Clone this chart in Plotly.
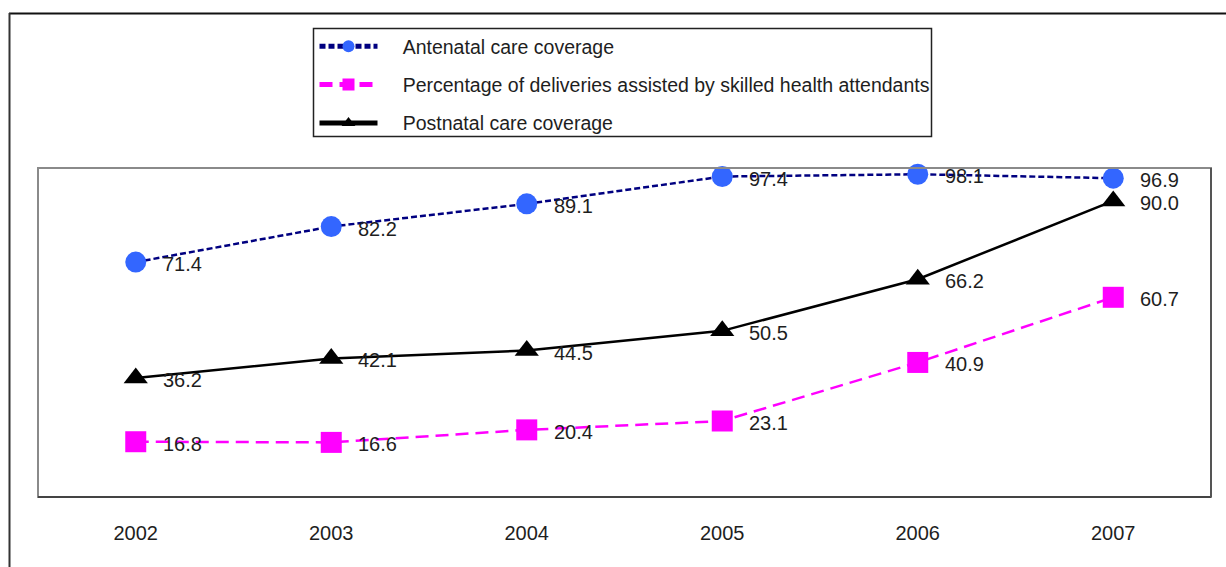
import plotly.graph_objects as go

# Coverage indicators by year (%)
years = ["2002", "2003", "2004", "2005", "2006", "2007"]
antenatal = [71.4, 82.2, 89.1, 97.4, 98.1, 96.9]
deliveries = [16.8, 16.6, 20.4, 23.1, 40.9, 60.7]
postnatal = [36.2, 42.1, 44.5, 50.5, 66.2, 90.0]

series_names = [
    "Antenatal care coverage",
    "Percentage of deliveries assisted by skilled health attendants",
    "Postnatal care coverage",
]

W, H = 1226, 567
L, R, T, B = 38, 1211, 168, 497  # plot area in pixels

FONT = "Liberation Sans, Arial, sans-serif"
TXT = "#1e1e1e"
PAD = "\u00a0\u00a0\u00a0\u2009"  # gap between legend symbol and label

fig = go.Figure()

fig.add_trace(go.Scatter(
    x=years, y=antenatal, name=PAD + series_names[0], mode="lines+markers",
    line=dict(color="#000080", width=2.5, dash="6px,3px"),
    marker=dict(symbol="circle", size=21, color="#3366FF"),
    legendgroup="a", cliponaxis=False,
))
fig.add_trace(go.Scatter(
    x=years, y=deliveries, name=PAD + series_names[1], mode="lines+markers",
    line=dict(color="#FF00FF", width=2.5, dash="13px,7px"),
    marker=dict(symbol="square", size=21, color="#FF00FF"),
    legendgroup="b", cliponaxis=False,
))
fig.add_trace(go.Scatter(
    x=years, y=postnatal, name=PAD + series_names[2], mode="lines+markers",
    line=dict(color="#000000", width=2.5),
    marker=dict(symbol="triangle-up", size=21, color="#000000"),
    legendgroup="c", cliponaxis=False,
))

# Value labels to the right of each marker (category index on the x axis)
annotations = []
for vals in (antenatal, deliveries, postnatal):
    for i, v in enumerate(vals):
        annotations.append(dict(
            x=i, y=v, xref="x", yref="y", text=f"{v:.1f}",
            showarrow=False, xanchor="left", yanchor="middle",
            xshift=25, yshift=-2,
            font=dict(family=FONT, size=20, color=TXT),
        ))

pw, ph = R - L, B - T


def px_x(p):
    return (p - L) / pw


def px_y(p):
    return (B - p) / ph


shapes = [
    # outer chart frame (top and left edges)
    dict(type="line", xref="paper", yref="paper",
         x0=px_x(9), x1=px_x(W + 5), y0=px_y(13.5), y1=px_y(13.5),
         line=dict(color="#111111", width=2)),
    dict(type="line", xref="paper", yref="paper",
         x0=px_x(9.5), x1=px_x(9.5), y0=px_y(13), y1=px_y(H + 5),
         line=dict(color="#333333", width=2)),
    # plot area frame
    dict(type="rect", xref="paper", yref="paper",
         x0=0, x1=1, y0=0, y1=1,
         line=dict(color="#8a8a8a", width=2)),
    dict(type="line", xref="paper", yref="paper",
         x0=0, x1=1, y0=0, y1=0, line=dict(color="#444444", width=2)),
    dict(type="line", xref="paper", yref="paper",
         x0=1, x1=1, y0=0, y1=1, line=dict(color="#555555", width=2)),
    # legend box
    dict(type="rect", xref="paper", yref="paper",
         x0=px_x(313.5), x1=px_x(931.5), y0=px_y(28.5), y1=px_y(136.5),
         line=dict(color="#222222", width=1.5)),
]

fig.update_layout(
    width=W, height=H,
    margin=dict(l=L, r=W - R, t=T, b=H - B, pad=0),
    paper_bgcolor="white", plot_bgcolor="white",
    font=dict(family=FONT, size=20, color=TXT),
    showlegend=True,
    legend=dict(
        x=px_x(314.5), y=px_y(27), xanchor="left", yanchor="top",
        xref="paper", yref="paper",
        bgcolor="rgba(0,0,0,0)", borderwidth=0,
        font=dict(family=FONT, size=19.5, color=TXT),
        itemwidth=58, itemsizing="constant", tracegroupgap=10,
        traceorder="grouped",
    ),
    xaxis=dict(
        type="category", range=[-0.5, 5.5], showgrid=False, zeroline=False,
        showline=False, ticks="", ticklabelstandoff=22,
        tickfont=dict(family=FONT, size=20, color=TXT),
        fixedrange=True,
    ),
    yaxis=dict(
        range=[0, 100], showgrid=False, zeroline=False, showline=False,
        showticklabels=False, ticks="", fixedrange=True,
    ),
    annotations=annotations,
    shapes=shapes,
)

fig.write_html("out.html")
